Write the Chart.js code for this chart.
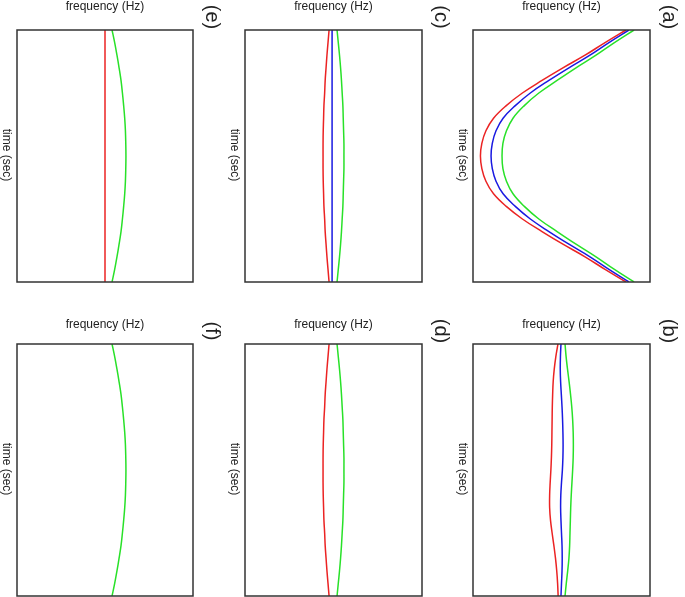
<!DOCTYPE html>
<html>
<head>
<meta charset="utf-8">
<script src="https://cdn.jsdelivr.net/npm/chart.js@4.4.1/dist/chart.umd.min.js"></script>
<style>
  html, body { margin: 0; padding: 0; background: #fff; overflow: hidden; }
  #wrap { position: relative; width: 685px; height: 597px; }
  canvas { position: absolute; }
</style>
</head>
<body>
<div id="wrap"></div>
<script>
// time samples (top of box = 0, bottom = 100), frequency on 0..100
const times = [0, 5, 10, 15, 20, 25, 30, 35, 40, 45, 50, 55, 60, 65, 70, 75, 80, 85, 90, 95, 100];

const aRed   = [86.4, 74.6, 63.3, 50.8, 39.0, 27.9, 18.8, 11.6, 7.3, 5.0, 4.2, 5.0, 7.3, 11.6, 18.8, 27.9, 39.0, 50.8, 63.3, 74.6, 86.4];
const aBlue  = [88.1, 76.8, 66.1, 54.2, 42.9, 32.4, 23.9, 17.0, 13.0, 10.9, 10.2, 10.9, 13.0, 17.0, 23.9, 32.4, 42.9, 54.2, 66.1, 76.8, 88.1];
const aGreen = [91.0, 79.9, 69.5, 58.2, 47.5, 37.2, 29.0, 22.6, 18.9, 16.9, 16.4, 16.9, 18.9, 22.6, 29.0, 37.2, 47.5, 58.2, 69.5, 79.9, 91.0];

const bRed   = [48.0, 46.8, 45.9, 45.3, 45.0, 44.8, 44.7, 44.6, 44.5, 44.3, 44.0, 43.6, 43.3, 43.3, 43.8, 44.7, 45.7, 46.6, 47.3, 47.8, 48.1];
const bBlue  = [49.7, 49.4, 49.3, 49.5, 49.9, 50.3, 50.6, 50.8, 50.9, 50.8, 50.5, 50.0, 49.6, 49.5, 49.7, 50.0, 50.3, 50.4, 50.3, 50.0, 49.7];
const bGreen = [52.0, 52.6, 53.4, 54.3, 55.1, 55.8, 56.3, 56.6, 56.7, 56.6, 56.3, 55.9, 55.5, 55.2, 55.0, 54.8, 54.6, 54.2, 53.5, 52.7, 52.0];

const cRed   = [47.5, 46.9, 46.3, 45.8, 45.3, 45.0, 44.6, 44.4, 44.2, 44.1, 44.1, 44.1, 44.2, 44.4, 44.6, 45.0, 45.3, 45.8, 46.3, 46.9, 47.5];
const cBlue  = [49.2, 49.2, 49.2, 49.2, 49.2, 49.2, 49.2, 49.2, 49.2, 49.2, 49.2, 49.2, 49.2, 49.2, 49.2, 49.2, 49.2, 49.2, 49.2, 49.2, 49.2];
const cGreen = [52.0, 52.7, 53.4, 54.0, 54.5, 54.9, 55.3, 55.5, 55.7, 55.9, 55.9, 55.9, 55.7, 55.5, 55.3, 54.9, 54.5, 54.0, 53.4, 52.7, 52.0];

const dRed   = [47.5, 46.9, 46.3, 45.8, 45.3, 45.0, 44.6, 44.4, 44.2, 44.1, 44.1, 44.1, 44.2, 44.4, 44.6, 45.0, 45.3, 45.8, 46.3, 46.9, 47.5];
const dGreen = [52.0, 52.7, 53.4, 54.0, 54.5, 54.9, 55.3, 55.5, 55.7, 55.9, 55.9, 55.9, 55.7, 55.5, 55.3, 54.9, 54.5, 54.0, 53.4, 52.7, 52.0];

const eRed   = [50.0, 50.0, 50.0, 50.0, 50.0, 50.0, 50.0, 50.0, 50.0, 50.0, 50.0, 50.0, 50.0, 50.0, 50.0, 50.0, 50.0, 50.0, 50.0, 50.0, 50.0];
const eGreen = [54.0, 55.5, 56.8, 58.0, 59.1, 59.9, 60.6, 61.2, 61.6, 61.8, 61.9, 61.8, 61.6, 61.2, 60.6, 59.9, 59.1, 58.0, 56.8, 55.5, 54.0];

const fGreen = [54.0, 55.5, 56.8, 58.0, 59.1, 59.9, 60.6, 61.2, 61.6, 61.8, 61.9, 61.8, 61.6, 61.2, 60.6, 59.9, 59.1, 58.0, 56.8, 55.5, 54.0];

const xLabel = 'frequency (Hz)';
const yLabel = 'time (sec)';

const RED = 'rgb(235,35,35)';
const BLUE = 'rgb(25,25,225)';
const GREEN = 'rgb(40,225,40)';

// box = plot area position in the page
const panels = [
  { label: '(a)', box: [473, 30, 177, 252], gap: 23, series: [[aRed, RED], [aBlue, BLUE], [aGreen, GREEN]] },
  { label: '(b)', box: [473, 344, 177, 252], gap: 19, series: [[bRed, RED], [bBlue, BLUE], [bGreen, GREEN]] },
  { label: '(c)', box: [245, 30, 177, 252], gap: 23, series: [[cRed, RED], [cBlue, BLUE], [cGreen, GREEN]] },
  { label: '(d)', box: [245, 344, 177, 252], gap: 19, series: [[dRed, RED], [dGreen, GREEN]] },
  { label: '(e)', box: [17, 30, 176, 252], gap: 23, series: [[eRed, RED], [eGreen, GREEN]] },
  { label: '(f)', box: [17, 344, 176, 252], gap: 19, series: [[fGreen, GREEN]] }
];

const PAD = { left: 18, top: 30, right: 32, bottom: 10 };
const FONT = '"Liberation Sans", Arial, Helvetica, sans-serif';

const panelDecor = {
  id: 'panelDecor',
  afterDraw(chart, args, opts) {
    const { ctx, chartArea: a } = chart;
    ctx.save();
    ctx.strokeStyle = '#333';
    ctx.lineWidth = 1.5;
    ctx.strokeRect(a.left, a.top, a.right - a.left, a.bottom - a.top);

    ctx.fillStyle = '#222';
    ctx.font = '12px ' + FONT;
    ctx.textAlign = 'center';
    ctx.textBaseline = 'middle';
    ctx.fillText(xLabel, (a.left + a.right) / 2, a.top - opts.gap);

    ctx.save();
    ctx.translate(a.left - 10.5, (a.top + a.bottom) / 2 - 1);
    ctx.rotate(Math.PI / 2);
    ctx.fillText(yLabel, 0, 0);
    ctx.restore();

    ctx.translate(a.right + 19, a.top - 13);
    ctx.rotate(Math.PI / 2);
    ctx.font = '20px ' + FONT;
    ctx.fillText(opts.label, 0, 0);
    ctx.restore();
  }
};

const wrap = document.getElementById('wrap');

panels.forEach(p => {
  const [bx, by, bw, bh] = p.box;
  const cv = document.createElement('canvas');
  cv.width = bw + PAD.left + PAD.right;
  cv.height = bh + PAD.top + PAD.bottom;
  cv.style.left = (bx - PAD.left) + 'px';
  cv.style.top = (by - PAD.top) + 'px';
  wrap.appendChild(cv);

  new Chart(cv, {
    type: 'scatter',
    data: {
      datasets: p.series.map(([vals, col]) => ({
        data: times.map((t, i) => ({ x: vals[i], y: t })),
        showLine: true,
        borderColor: col,
        borderWidth: 1.5,
        pointRadius: 0,
        tension: 0.4,
        fill: false
      }))
    },
    options: {
      responsive: false,
      animation: false,
      layout: { padding: PAD },
      plugins: {
        legend: { display: false },
        tooltip: { enabled: false },
        panelDecor: { label: p.label, gap: p.gap }
      },
      scales: {
        x: { type: 'linear', min: 0, max: 100, display: false },
        y: { type: 'linear', min: 0, max: 100, reverse: true, display: false }
      }
    },
    plugins: [panelDecor]
  });
});
</script>
</body>
</html>
